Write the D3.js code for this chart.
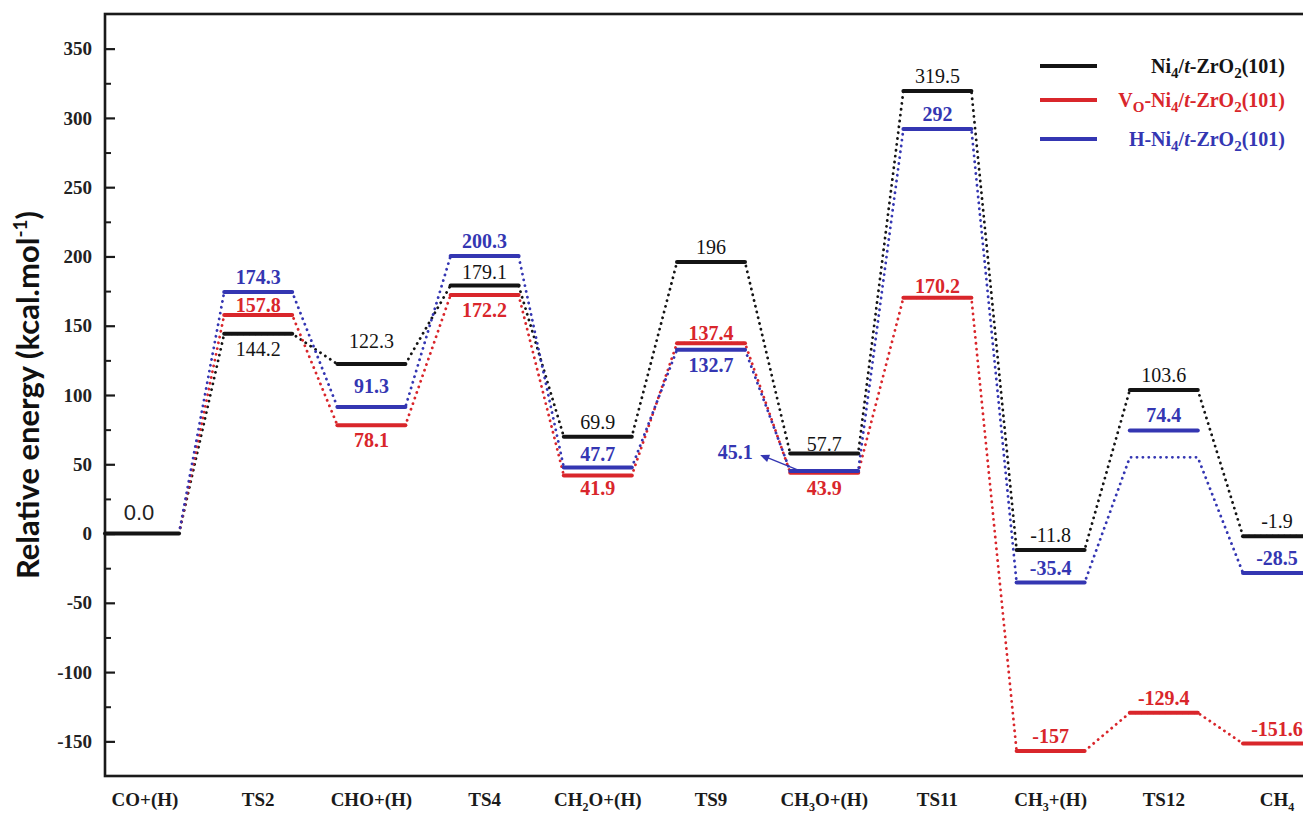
<!DOCTYPE html>
<html>
<head>
<meta charset="utf-8">
<script src="https://cdn.jsdelivr.net/npm/d3@7"></script>
<style>
  html, body { margin: 0; padding: 0; background: #fff; overflow: hidden; }
  svg { display: block; }
</style>
</head>
<body>
<svg id="chart" width="1303" height="813"></svg>
<script>
// Reaction steps along the CO methanation pathway
const categories = ["CO+(H)", "TS2", "CHO+(H)", "TS4", "CH2O+(H)", "TS9", "CH3O+(H)", "TS11", "CH3+(H)", "TS12", "CH4"];

// Relative energies (kcal/mol) for each surface
const ni4Values = [0, 144.2, 122.3, 179.1, 69.9, 196, 57.7, 319.5, -11.8, 103.6, -1.9];
const voNi4Values = [0, 157.8, 78.1, 172.2, 41.9, 137.4, 43.9, 170.2, -157, -129.4, -151.6];
const hNi4Values = [0, 174.3, 91.3, 200.3, 47.7, 132.7, 45.1, 292, -35.4, 74.4, -28.5];
// Levels followed by the dotted H-Ni4 pathway (plateau at TS12 sits below its bar)
const hNi4PathLevels = [0, 174.3, 91.3, 200.3, 47.7, 132.7, 45.1, 292, -35.4, 55, -28.5];

// Axis ticks
const majorTicks = [-150, -100, -50, 0, 50, 100, 150, 200, 250, 300, 350];
const minorTicks = [-125, -75, -25, 25, 75, 125, 175, 225, 275, 325];

const seriesNames = ["Ni4/t-ZrO2(101)", "Vo-Ni4/t-ZrO2(101)", "H-Ni4/t-ZrO2(101)"];

// ---- layout ----
const colors = ["#141414", "#d9262b", "#3436b2"];
const plotLeft = 105, plotTop = 14, plotBottom = 776, plotRight = 1340;
const halfBar = 34;

// label placement: side (+1 above, -1 below) and extra vertical nudge per series/step
const labelSide = [
  [0, -1, 1, 1, 1, 1, 1, 1, 1, 1, 1],
  [0, 1, -1, -1, -1, 1, -1, 1, 1, 1, 1],
  [0, 1, 1, 1, 1, -1, 0, 1, 1, 1, 1]
];
const labelNudge = [
  [0, 0, -8, 2, 0, 0, 5, 0, 0, 0, 0],
  [0, 5, 0, 0, -2, 5, 0, 3, 0, 0, 0],
  [0, 0, -6, 0, 2, 0, 0, 0, 0, 0, 0]
];

const svg = d3.select("#chart");

const x = d3.scalePoint().domain(categories).range([145, 1277]);
const y = d3.scaleLinear().domain([-175, 375]).range([plotBottom, plotTop]);

const serif = "'Liberation Serif', 'Times New Roman', serif";

// ---- frame ----
svg.append("rect")
  .attr("x", plotLeft).attr("y", plotTop)
  .attr("width", plotRight - plotLeft).attr("height", plotBottom - plotTop)
  .attr("fill", "none").attr("stroke", "#1a1a1a").attr("stroke-width", 2.6);

// ---- y axis (ticks pointing inward) ----
const yAxis = d3.axisLeft(y).tickValues(majorTicks).tickSize(-10).tickPadding(13)
  .tickFormat(d => String(d));
const gy = svg.append("g").attr("transform", `translate(${plotLeft},0)`).call(yAxis);
gy.select(".domain").remove();
gy.selectAll(".tick line").attr("stroke", "#1a1a1a").attr("stroke-width", 2.2);
gy.selectAll(".tick text")
  .attr("font-family", serif).attr("font-weight", "bold").attr("font-size", 19)
  .attr("fill", "#222");

const gyMinor = svg.append("g").attr("transform", `translate(${plotLeft},0)`)
  .call(d3.axisLeft(y).tickValues(minorTicks).tickSize(-6).tickFormat(""));
gyMinor.select(".domain").remove();
gyMinor.selectAll(".tick line").attr("stroke", "#1a1a1a").attr("stroke-width", 2);

// y axis title
const yTitle = svg.append("text")
  .attr("transform", "translate(39,395) rotate(-90)")
  .attr("text-anchor", "middle")
  .attr("font-family", "Lato, 'Open Sans', sans-serif")
  .attr("font-weight", "bold").attr("font-size", 31).attr("fill", "#111");
yTitle.append("tspan").text("Relative energy (kcal.mol");
yTitle.append("tspan").attr("font-size", 19).attr("dy", -12).text("-1");
yTitle.append("tspan").attr("dy", 12).text(")");

// ---- x category labels (digits after CH drawn as subscripts) ----
const xLabels = svg.append("g");
categories.forEach(c => {
  const t = xLabels.append("text")
    .attr("x", x(c)).attr("y", 806)
    .attr("text-anchor", "middle")
    .attr("font-family", serif).attr("font-weight", "bold").attr("font-size", 19)
    .attr("fill", "#1a1a1a");
  const m = c.match(/^CH(\d)(.*)$/);
  if (m) {
    t.append("tspan").text("CH");
    t.append("tspan").attr("font-size", 12).attr("dy", 5).text(m[1]);
    t.append("tspan").attr("dy", -5).text(m[2]);
  } else {
    t.text(c);
  }
});

// ---- dotted pathways ----
function pathPoints(levels) {
  const pts = [];
  levels.forEach((v, i) => {
    const cx = x(categories[i]);
    if (i > 0) pts.push([cx - halfBar, y(v)]);
    pts.push([cx + halfBar, y(v)]);
  });
  return pts;
}
const line = d3.line();
const pathLevels = [ni4Values, voNi4Values, hNi4PathLevels];
pathLevels.forEach((levels, s) => {
  svg.append("path")
    .attr("d", line(pathPoints(levels)))
    .attr("fill", "none")
    .attr("stroke", colors[s])
    .attr("stroke-width", 2.8)
    .attr("stroke-linecap", "round")
    .attr("stroke-dasharray", "0.1 5.8");
});

// ---- energy level bars ----
const seriesValues = [ni4Values, voNi4Values, hNi4Values];
seriesValues.forEach((vals, s) => {
  svg.append("g").selectAll("line")
    .data(vals.map((v, i) => ({ v, i })).filter(d => !(d.i === 0 && s > 0)))
    .join("line")
    .attr("x1", d => d.i === 0 ? plotLeft : x(categories[d.i]) - halfBar)
    .attr("x2", d => x(categories[d.i]) + halfBar)
    .attr("y1", d => y(d.v)).attr("y2", d => y(d.v))
    .attr("stroke", colors[s]).attr("stroke-width", 4)
    .attr("stroke-linecap", "round");
});

// ---- value labels ----
const fmt = v => Number.isInteger(v) ? String(v) : v.toFixed(1);
seriesValues.forEach((vals, s) => {
  vals.forEach((v, i) => {
    const side = labelSide[s][i];
    if (side === 0) return;
    const by = y(v) + (side > 0 ? -8 : 22) + labelNudge[s][i];
    svg.append("text")
      .attr("x", x(categories[i])).attr("y", by)
      .attr("text-anchor", "middle")
      .attr("font-family", serif)
      .attr("font-weight", s === 0 ? "normal" : "bold")
      .attr("font-size", 20)
      .attr("fill", colors[s])
      .text(fmt(v));
  });
});

// starting level label
svg.append("text")
  .attr("x", x(categories[0]) - 6).attr("y", y(ni4Values[0]) - 14)
  .attr("text-anchor", "middle")
  .attr("font-family", "'Liberation Sans', Arial, sans-serif")
  .attr("font-size", 22).attr("fill", "#222")
  .text(d3.format(".1f")(ni4Values[0]));

// H-Ni4 label at CH3O+(H) with a pointer to its bar
{
  const i = 6, v = hNi4Values[i];
  const bx = x(categories[i]) - halfBar;
  svg.append("text")
    .attr("x", bx - 55).attr("y", y(v) - 12)
    .attr("text-anchor", "middle")
    .attr("font-family", serif).attr("font-weight", "bold").attr("font-size", 20)
    .attr("fill", colors[2]).text(fmt(v));
  const x0 = bx + 8, y0 = y(v) - 1, x1 = bx - 30, y1 = y(v) - 16;
  svg.append("line").attr("x1", x0).attr("y1", y0).attr("x2", x1 + 6).attr("y2", y1 + 2)
    .attr("stroke", colors[2]).attr("stroke-width", 1.4);
  const ang = Math.atan2(y1 - y0, x1 - x0);
  const ah = 9, aw = 4;
  const p = [
    [x1, y1],
    [x1 - ah * Math.cos(ang) + aw * Math.sin(ang), y1 - ah * Math.sin(ang) - aw * Math.cos(ang)],
    [x1 - ah * Math.cos(ang) - aw * Math.sin(ang), y1 - ah * Math.sin(ang) + aw * Math.cos(ang)]
  ];
  svg.append("path").attr("d", "M" + p.join("L") + "Z").attr("fill", colors[2]);
}

// ---- legend ----
const legend = svg.append("g");
const legendRows = [66, 100, 139];
seriesNames.forEach((name, s) => {
  const ly = legendRows[s];
  legend.append("line")
    .attr("x1", 1040).attr("x2", 1097).attr("y1", ly).attr("y2", ly)
    .attr("stroke", colors[s]).attr("stroke-width", 4);
  const t = legend.append("text")
    .attr("x", 1285).attr("y", ly + 7)
    .attr("text-anchor", "end")
    .attr("font-family", serif).attr("font-weight", "bold").attr("font-size", 20)
    .attr("fill", colors[s]);
  // tokens: "_x" = subscript, "*x" = italic
  const prefix = name.startsWith("Vo-") ? ["V", "_O", "-"] : name.startsWith("H-") ? ["H-"] : [];
  const tokens = prefix.concat(["Ni", "_4", "/", "*t", "-ZrO", "_2", "(101)"]);
  let shifted = false;
  tokens.forEach(tok => {
    const ts = t.append("tspan");
    if (tok[0] === "_") {
      ts.attr("font-size", 15).attr("dy", shifted ? 0 : 5).text(tok.slice(1));
      shifted = true;
    } else {
      if (shifted) { ts.attr("dy", -5); shifted = false; }
      if (tok[0] === "*") ts.attr("font-style", "italic").text(tok.slice(1));
      else ts.text(tok);
    }
  });
});
</script>
</body>
</html>
